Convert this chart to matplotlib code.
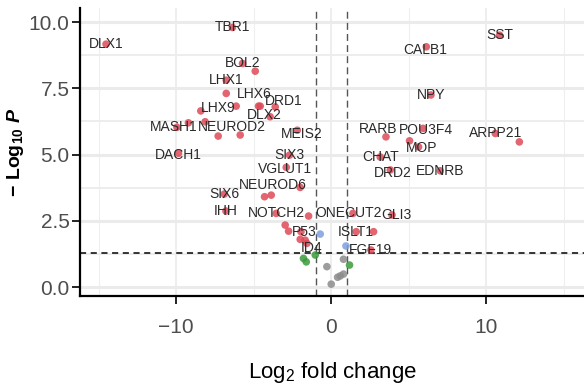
import matplotlib
matplotlib.use("Agg")
import matplotlib.pyplot as plt
import numpy as np
from matplotlib.ticker import MultipleLocator, FormatStrFormatter

# Labelled genes: log2 fold change and -log10 p-value
genes = ["DLX1", "TBR1", "BOL2", "LHX1", "LHX6", "DRD1", "LHX9", "DLX2", "MEIS2",
         "MASH1", "NEUROD2", "DACH1", "SIX3", "VGLUT1", "NEUROD6", "SIX6", "IHH",
         "NOTCH2", "P53", "ID4", "ONECUT2", "GLI3", "ISLT1", "FGF19", "SST", "CALB1",
         "NPY", "RARB", "POU3F4", "MOP", "ARPP21", "CHAT", "DRD2", "EDNRB"]
gene_lfc = [-14.52, -6.37, -5.72, -6.77, -4.69, -3.61, -6.13, -3.94, -2.19,
            -9.95, -7.29, -9.85, -2.69, -2.90, -3.87, -6.90, -6.79,
            -3.55, -1.95, -1.57, 1.40, 3.92, 1.61, 2.56, 10.86, 6.13,
            6.43, 3.53, 5.92, 5.63, 10.58, 3.16, 3.81, 7.03]
gene_nlp = [9.17, 9.80, 8.44, 7.81, 6.83, 6.80, 6.83, 6.43, 5.92,
            6.03, 5.70, 5.05, 4.98, 4.52, 3.47, 3.51, 2.87,
            2.78, 2.09, 1.65, 2.78, 2.72, 2.09, 1.40, 9.51, 9.07,
            7.25, 5.67, 5.99, 5.29, 5.80, 4.91, 4.42, 4.39]

# Remaining (unlabelled) genes
other_lfc = [-4.90, -6.77, -4.58, -8.41, -8.13, -9.21, -5.87, -2.00, -4.30,
             -1.46, -2.97, -2.75, -2.00, -1.68, 2.73, 5.05, 12.13,
             -0.71, 0.95,
             -1.79, -1.61, -1.03, 1.18,
             -0.28, 0.00, 0.41, 0.58, 0.79, 0.79]
other_nlp = [8.15, 7.31, 6.83, 6.65, 6.24, 6.20, 5.74, 3.76, 3.41,
             2.68, 2.34, 2.11, 1.80, 1.77, 2.09, 5.52, 5.48,
             2.00, 1.55,
             1.08, 0.95, 1.21, 0.83,
             0.77, 0.11, 0.37, 0.42, 0.49, 1.05]

fc_cut = 1.0
p_cut = -np.log10(0.05)

# Small nudges (points) that keep crowded labels readable
label_nudge = {
    "LHX6": (-3, 8.5), "DRD1": (6, 4), "LHX9": (-13, -1), "DLX2": (-4, 1),
    "MEIS2": (3, -3), "MASH1": (-2, 0), "NEUROD2": (10, 6.5), "NEUROD6": (1, 7),
    "RARB": (-6, 6), "ID4": (3.5, -3), "P53": (2, 0), "POU3F4": (2, -1),
    "DRD2": (1.5, -2.4), "VGLUT1": (-1, -1.4), "DACH1": (0, -1.2), "CALB1": (-1, -2),
    "ONECUT2": (-3, 0), "GLI3": (3, 0), "MOP": (2, -1),
}

plt.rcParams["font.family"] = ["Liberation Sans", "DejaVu Sans"]
plt.rcParams["mathtext.fontset"] = "custom"
plt.rcParams["mathtext.rm"] = "Liberation Sans:bold"
plt.rcParams["mathtext.it"] = "Liberation Sans:italic:bold"
plt.rcParams["mathtext.sf"] = "Liberation Sans"

fig = plt.figure(figsize=(5.84, 3.87), dpi=100)
ax = fig.add_axes([0.137, 0.235, 0.863, 0.744])

lfc = np.array(gene_lfc + other_lfc)
nlp = np.array(gene_nlp + other_nlp)


def point_colour(x, y):
    big = abs(x) >= fc_cut
    sig = y >= p_cut
    if big and sig:
        return "#dd4a57"
    if big:
        return "#3a9b3a"
    if sig:
        return "#7f9fe0"
    return "#8c8c8c"


cols = [point_colour(x, y) for x, y in zip(lfc, nlp)]
ax.scatter(lfc, nlp, s=30, c=cols, alpha=0.85, linewidths=0, zorder=3)

for g, x, y in zip(genes, gene_lfc, gene_nlp):
    dx, dy = label_nudge.get(g, (0, 0))
    ax.annotate(g, (x, y), xytext=(dx, dy), textcoords="offset points",
                ha="center", va="center", fontsize=10, color="#2a2a2a", zorder=4)

# Thresholds
ax.axvline(-fc_cut, color="#555555", lw=1.0, dashes=(5, 3), zorder=2)
ax.axvline(fc_cut, color="#555555", lw=1.0, dashes=(5, 3), zorder=2)
ax.axhline(p_cut, color="black", lw=1.1, dashes=(4, 3), zorder=2)

ax.set_xlim(-16.2, 16.3)
ax.set_ylim(-0.34, 10.53)
ax.xaxis.set_major_locator(MultipleLocator(10))
ax.xaxis.set_minor_locator(MultipleLocator(5))
ax.yaxis.set_major_locator(MultipleLocator(2.5))
ax.yaxis.set_minor_locator(MultipleLocator(1.25))
ax.yaxis.set_major_formatter(FormatStrFormatter("%.1f"))

ax.set_axisbelow(True)
ax.grid(which="major", axis="y", color="#ebebeb", lw=2.2)
ax.grid(which="minor", axis="y", color="#ededed", lw=1.4)
ax.grid(which="major", axis="x", color="#ebebeb", lw=1.2)
ax.grid(which="minor", axis="x", color="#efefef", lw=0.8)

for side in ("top", "right"):
    ax.spines[side].set_visible(False)
for side in ("left", "bottom"):
    ax.spines[side].set_linewidth(1.6)
    ax.spines[side].set_color("black")

ax.tick_params(which="major", length=5.5, width=1.4, color="#222222",
               labelsize=15, labelcolor="#4d4d4d")
ax.tick_params(axis="y", pad=2)
ax.tick_params(axis="x", pad=10)
ax.tick_params(which="minor", length=0)

ax.set_xlabel(r"Log$_\mathsf{2}$ fold change", fontsize=16, color="black", labelpad=17)
ax.set_ylabel(r"$\mathrm{-\ Log_{10}}\ P$", fontsize=14, color="black", labelpad=2)

fig.savefig("out.png", dpi=100)
